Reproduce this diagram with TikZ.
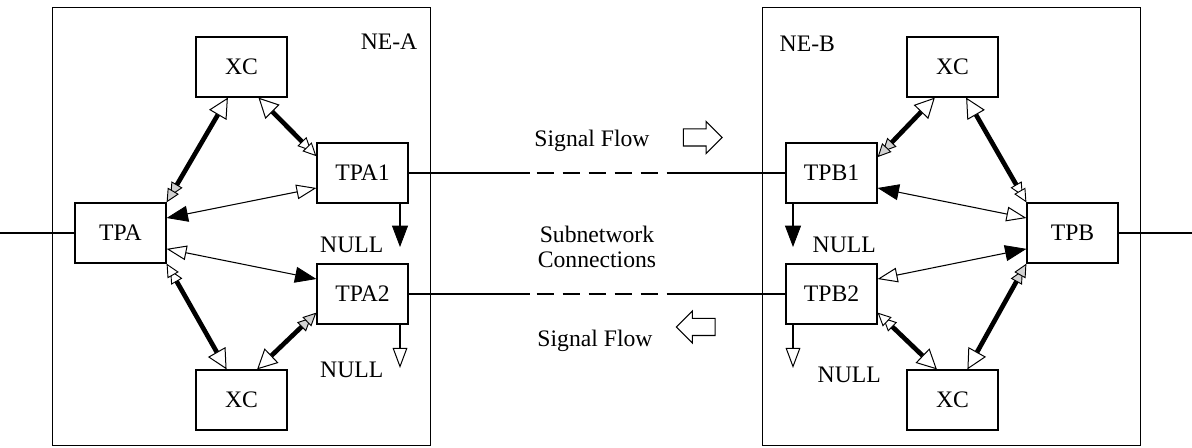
\documentclass[tikz,border=0pt]{standalone}
\usepackage{fontspec}
\setmainfont{Liberation Serif}
\usetikzlibrary{arrows.meta,shapes.arrows}

\tikzset{
  xcopen/.tip = {Triangle[open, fill=white, line width=0.75pt, length=15pt, width=15pt]},
  tpwhite/.tip = {Triangle[open, fill=white, line width=0.7pt, length=10pt, width=9.5pt, sep=-4.5pt] Triangle[open, fill=white, line width=0.7pt, length=10pt, width=9.5pt]},
  tpgrey/.tip = {Triangle[fill=gray!35, line width=0.7pt, length=10pt, width=9.5pt, sep=-4.5pt] Triangle[fill=gray!35, line width=0.7pt, length=10pt, width=9.5pt]},
  solidhead/.tip = {Triangle[line width=0.6pt, length=16pt, width=12pt]},
  openhead/.tip = {Triangle[open, fill=white, line width=0.75pt, length=15pt, width=11pt]},
}

\begin{document}
\begin{tikzpicture}[x=0.75pt, y=-0.75pt, font=\fontsize{17.75}{18.75}\selectfont,
    box/.style = {draw, line width=0.9pt, minimum width=68.25pt, minimum height=45pt},
    nebox/.style = {draw, line width=1pt, anchor=north west, minimum width=283.5pt, minimum height=328.5pt},
    heavy/.style = {line width=3.5pt},
    light/.style = {line width=0.8pt},
    link/.style = {line width=1.5pt},
    snc/.style = {link, dash pattern=on 90.75pt off 5.25pt on 12.75pt off 6.75pt on 12.75pt off 6.75pt on 12.75pt off 6.75pt on 12.75pt off 6.75pt on 12.75pt off 6.75pt on 200pt},
    flow/.style = {single arrow, draw, line width=0.8pt, inner xsep=0pt, inner ysep=6pt, minimum height=29pt, single arrow head extend=5.6pt}]
    \useasboundingbox (0,0) rectangle (1192,448);

    % network elements
    \node[nebox] (nea) at (52,7) {};
    \node[nebox] (neb) at (762,7) {};
    \node[anchor=base east] (nealabel) at (422,50) {NE-A};
    \node[anchor=base west] (neblabel) at (775,52) {NE-B};

    % NE-A
    \node[box] (xca) at (241.5,67) {XC};
    \node[box] (tpa) at (120.5,233) {TPA};
    \node[box] (tpai) at (362.5,173) {TPA1};
    \node[box] (tpaii) at (362.5,294) {TPA2};
    \node[box] (xcb) at (241.5,400) {XC};

    % NE-B
    \node[box] (xcc) at (952.5,67) {XC};
    \node[box] (tpb) at (1072.5,233) {TPB};
    \node[box] (tpbi) at (831.5,173) {TPB1};
    \node[box] (tpbii) at (831.5,294) {TPB2};
    \node[box] (xcd) at (952.5,400) {XC};

    % cross connections NE-A
    \draw[heavy, tpgrey-xcopen] (tpa.north east) -- (xca.246);
    \draw[heavy, tpwhite-xcopen] (tpai.160) -- (xca.-61);
    \draw[light, solidhead-openhead] (tpa.18) -- (tpai.198);
    \draw[light, openhead-solidhead] (tpa.-19) -- (tpaii.162);
    \draw[heavy, tpwhite-xcopen] (tpa.south east) -- (xcb.116);
    \draw[heavy, tpgrey-xcopen] (tpaii.202) -- (xcb.63);

    % cross connections NE-B
    \draw[heavy, tpgrey-xcopen] (tpbi.19) -- (xcc.240);
    \draw[heavy, tpwhite-xcopen] (tpb.north west) -- (xcc.-66);
    \draw[light, solidhead-openhead] (tpbi.-18) -- (tpb.162);
    \draw[light, openhead-solidhead] (tpbii.18) -- (tpb.199);
    \draw[heavy, tpwhite-xcopen] (tpbii.-22) -- (xcd.117);
    \draw[heavy, tpgrey-xcopen] (tpb.south west) -- (xcd.64);

    % unconnected points
    \coordinate (nullai) at (400,247);
    \coordinate (nullaii) at (400,368);
    \coordinate (nullbi) at (793,247);
    \coordinate (nullbii) at (793,368);
    \draw[link, -solidhead] (tpai.south -| nullai) -- (nullai);
    \draw[link, -openhead] (tpaii.south -| nullaii) -- (nullaii);
    \draw[link, -solidhead] (tpbi.south -| nullbi) -- (nullbi);
    \draw[link, -openhead] (tpbii.south -| nullbii) -- (nullbii);
    \node[anchor=base east] (nullta) at (388,253) {NULL};
    \node[anchor=base east] (nullba) at (388,378) {NULL};
    \node[anchor=base west] (nulltb) at (808,253) {NULL};
    \node[anchor=base west] (nullbb) at (813,383) {NULL};

    % outside links
    \coordinate (ina) at (0,233);
    \coordinate (outb) at (1192,233);
    \draw[link] (ina) -- (tpa);
    \draw[link] (tpb) -- (outb);

    % subnetwork connections
    \draw[snc] (tpai) -- (tpbi);
    \draw[snc] (tpaii) -- (tpbii);
    \node[anchor=base] (sfa) at (592,147) {Signal Flow};
    \node[anchor=base] (sfb) at (595,347) {Signal Flow};
    \node[align=center] (subnet) at (597,247) {Subnetwork\\Connections};
    \node[flow] (arra) at (698.5,137.5) {};
    \node[flow, shape border rotate=180] (arrb) at (700,327) {};
\end{tikzpicture}
\end{document}
